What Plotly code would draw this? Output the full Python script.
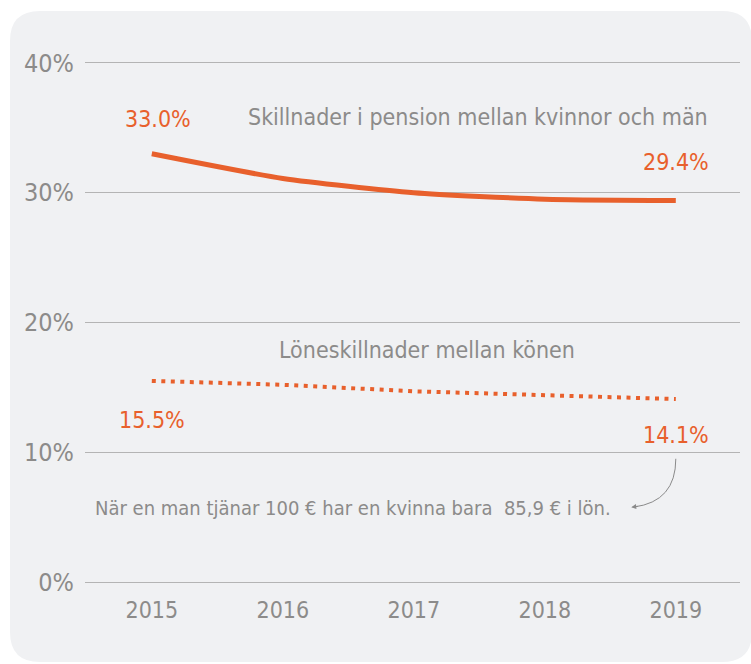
import plotly.graph_objects as go

years = [2015, 2016, 2017, 2018, 2019]
pension_gap = [33.0, 31.1, 30.0, 29.5, 29.4]
wage_gap = [15.5, 15.2, 14.7, 14.4, 14.1]
y_ticks = [0, 10, 20, 30, 40]
y_tick_labels = ["0%", "10%", "20%", "30%", "40%"]

ORANGE = "#e8602c"
GRAY = "#8c8b8a"
FONT = "DejaVu Sans Condensed, Liberation Sans Narrow, Roboto, sans-serif"

W, H = 751, 664
L, R, T, B = 85, 11, 61, 80
pw, ph = W - L - R, H - T - B

def px(x):
    return (x - L) / pw

def py(y):
    return (H - B - y) / ph

fig = go.Figure()
fig.add_trace(go.Scatter(x=years, y=pension_gap, mode="lines",
                         line=dict(color=ORANGE, width=5, shape="spline", smoothing=0.6),
                         hoverinfo="skip"))
fig.add_trace(go.Scatter(x=years, y=wage_gap, mode="lines",
                         line=dict(color=ORANGE, width=4, dash="4px,5.5px"),
                         hoverinfo="skip"))

# rounded background panel
x0, x1, y0, y1, r = 10, 752, 11, 662, 30
path = (f"M {px(x0+r)},{py(y0)} L {px(x1-r)},{py(y0)} Q {px(x1)},{py(y0)} {px(x1)},{py(y0+r)} "
        f"L {px(x1)},{py(y1-r)} Q {px(x1)},{py(y1)} {px(x1-r)},{py(y1)} "
        f"L {px(x0+r)},{py(y1)} Q {px(x0)},{py(y1)} {px(x0)},{py(y1-r)} "
        f"L {px(x0)},{py(y0+r)} Q {px(x0)},{py(y0)} {px(x0+r)},{py(y0)} Z")
shapes = [dict(type="path", path=path, xref="paper", yref="paper",
               fillcolor="#f0f1f3", line=dict(width=0), layer="below")]

# curved arrow from 14.1% label to note
shapes.append(dict(type="path", xref="x", yref="y",
                   path="M 2019,9.5 Q 2019,6.2 2018.68,5.78",
                   line=dict(color="#8a8a8a", width=1)))

annotations = [
    dict(x=2015, y=35.7, text="33.0%", showarrow=False, font=dict(color=ORANGE, size=23, family=FONT), xshift=6),
    dict(x=2019, y=32.4, text="29.4%", showarrow=False, font=dict(color=ORANGE, size=23, family=FONT)),
    dict(x=2017.49, y=35.8, text="Skillnader i pension mellan kvinnor och män", showarrow=False,
         font=dict(color=GRAY, size=23, family=FONT)),
    dict(x=2017.1, y=17.9, text="Löneskillnader mellan könen", showarrow=False,
         font=dict(color=GRAY, size=23, family=FONT)),
    dict(x=2015, y=12.5, text="15.5%", showarrow=False, font=dict(color=ORANGE, size=23, family=FONT)),
    dict(x=2019, y=11.3, text="14.1%", showarrow=False, font=dict(color=ORANGE, size=23, family=FONT)),
    dict(x=px(93), xref="paper", y=5.7, xanchor="left",
         text="När en man tjänar 100 € har en kvinna bara  85,9 € i lön.", showarrow=False,
         font=dict(color=GRAY, size=20, family=FONT)),
    dict(x=2018.66, y=5.77, ax=8, ay=-1, text="", showarrow=True, arrowhead=2, arrowsize=1,
         arrowwidth=1, arrowcolor="#8a8a8a", standoff=0),
]

fig.update_layout(
    width=W, height=H,
    margin=dict(l=L, r=R, t=T, b=B, autoexpand=False),
    paper_bgcolor="white", plot_bgcolor="rgba(0,0,0,0)",
    showlegend=False,
    shapes=shapes, annotations=annotations,
    xaxis=dict(range=[2014.49, 2019.49], tickvals=years, ticktext=[str(y) for y in years],
               showgrid=False, zeroline=False, showline=False, ticks="", automargin=False,
               tickfont=dict(color=GRAY, size=23, family=FONT), ticklabelstandoff=10),
    yaxis=dict(range=[-0.15, 40.15], tickvals=y_ticks, ticktext=y_tick_labels,
               showgrid=True, gridcolor="#b4b4b4", gridwidth=1, zeroline=False, automargin=False,
               showline=False, ticks="", ticklabelstandoff=10,
               tickfont=dict(color=GRAY, size=25, family=FONT)),
)

fig.write_html("out.html", config={"displayModeBar": False},
               post_script="document.body.style.margin='0';")
